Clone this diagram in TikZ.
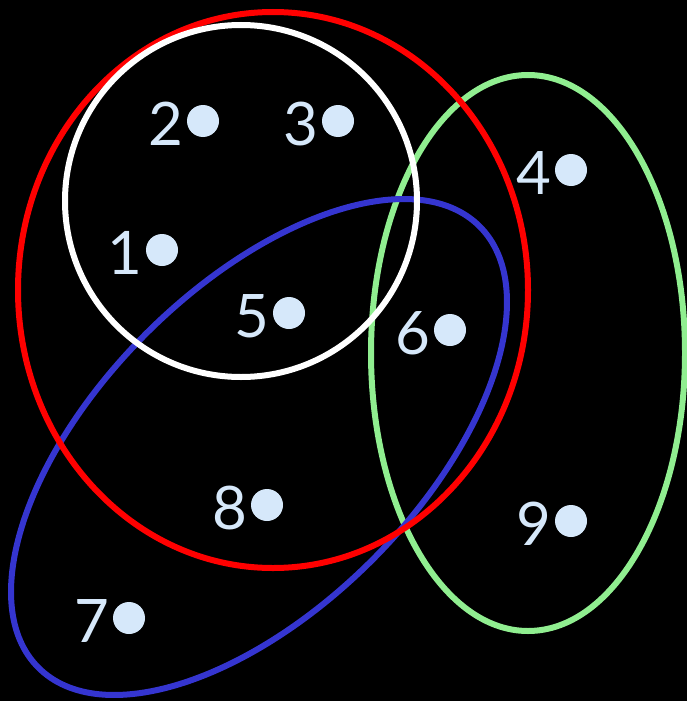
\documentclass[tikz,border=0pt]{standalone}
\usepackage{fontspec}
\setmainfont{Lato}
\definecolor{dotc}{HTML}{D6E8FA}
\definecolor{redc}{HTML}{FF0000}
\definecolor{bluec}{HTML}{3535D0}
\definecolor{greenc}{HTML}{90EE90}
\begin{document}
\begin{tikzpicture}[x=1pt,y=-1pt,
  dot/.style={circle,fill=dotc,minimum size=32pt,inner sep=0pt},
  lab/.style={text=dotc,font=\fontsize{60}{60}\selectfont,inner sep=0pt,anchor=east},
  ring/.style={line width=6pt}]
\fill[black] (0,0) rectangle (687,701);
\useasboundingbox (0,0) rectangle (687,701);
\draw[ring,greenc] (528,353) ellipse [x radius=157, y radius=278];
\draw[ring,bluec,rotate around={45:(259,447)}] (259,447) ellipse [x radius=312, y radius=160];
\draw[ring,redc] (273,290) ellipse [x radius=255, y radius=278];
\draw[ring,white] (241,201) circle [radius=176];
\foreach \n/\x/\y in {1/162/250,2/203/121,3/338/121,4/571/170,5/289/313,6/450/330,7/129/618,8/267/505,9/571/521}{
  \node[dot] (d\n) at (\x,\y) {};
  \node[lab] (l\n) at ([xshift=-3pt,yshift=-3pt]d\n.west) {\n};
}
\end{tikzpicture}
\end{document}
